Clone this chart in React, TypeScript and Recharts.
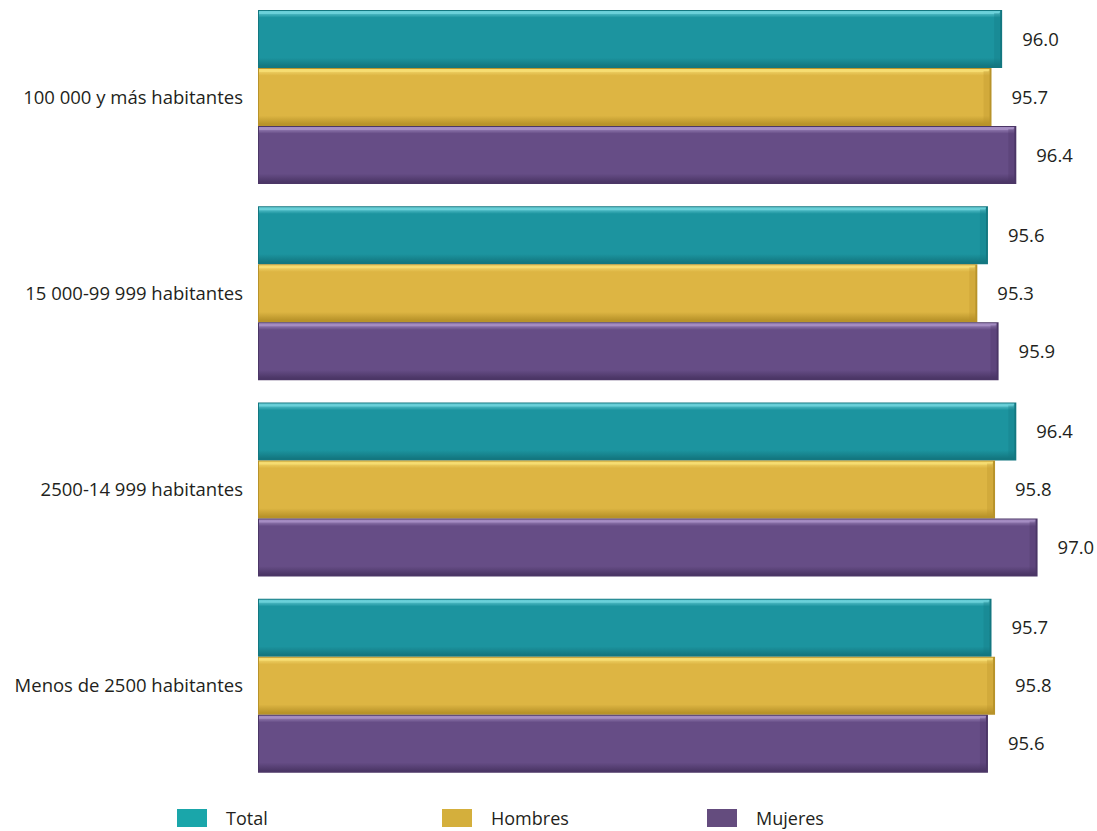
import React from 'react';
import { BarChart, Bar, XAxis, YAxis, Legend, LabelList } from 'recharts';

const categories = [
  '100 000 y más habitantes',
  '15 000-99 999 habitantes',
  '2500-14 999 habitantes',
  'Menos de 2500 habitantes',
];
const totalValues = [96.0, 95.6, 96.4, 95.7];
const hombresValues = [95.7, 95.3, 95.8, 95.8];
const mujeresValues = [96.4, 95.9, 97.0, 95.6];

const data = categories.map((name, i) => ({
  name,
  total: totalValues[i],
  hombres: hombresValues[i],
  mujeres: mujeresValues[i],
}));

const FONT = '"Open Sans", sans-serif';
const TEXT = '#231F20';

const SERIES = [
  { key: 'total', name: 'Total', base: '#1C949F', light: '#6FD3DC', dark: '#137780', legend: '#1AA6AA' },
  { key: 'hombres', name: 'Hombres', base: '#DDB543', light: '#F7DE74', dark: '#B8932A', legend: '#D4AF3C' },
  { key: 'mujeres', name: 'Mujeres', base: '#664D86', light: '#A891C6', dark: '#4B3666', legend: '#644C7E' },
];

const makeShape = (s: typeof SERIES[number]) => (props: any) => {
  const { x, y, width, height } = props;
  if (!width || !height) return null;
  return (
    <g>
      <rect x={x} y={y} width={width} height={height} fill={s.dark} />
      <rect x={x + 1} y={y + 1} width={width - 3} height={height - 3} fill={`url(#grad-${s.key})`} />
      <rect x={x + 1} y={y + 2} width={width - 4} height={2} fill={s.light} opacity={0.85} />
      <rect x={x + width - 8} y={y + 3} width={6} height={height - 6} fill={s.dark} opacity={0.3} />
    </g>
  );
};

const renderLegend = () => (
  <div style={{ display: 'flex', paddingLeft: 177, fontFamily: FONT, fontSize: 18, color: TEXT }}>
    {SERIES.map((s) => (
      <div key={s.key} style={{ display: 'flex', alignItems: 'center', width: 265 }}>
        <span style={{ display: 'inline-block', width: 30, height: 18, background: s.legend, marginRight: 19 }} />
        <span>{s.name}</span>
      </div>
    ))}
  </div>
);

export default function App() {
  return (
    <div style={{ position: 'absolute', left: 0, top: 0, background: '#fff' }}>
      <BarChart
        width={1097}
        height={831}
        data={data}
        layout="vertical"
        margin={{ top: -1, right: 24, left: 0, bottom: 23 }}
        barSize={58}
        barGap={0}
      >
        <defs>
          {SERIES.map((s) => (
            <linearGradient key={s.key} id={`grad-${s.key}`} x1="0" y1="0" x2="0" y2="1">
              <stop offset="0%" stopColor={s.light} />
              <stop offset="12%" stopColor={s.base} />
              <stop offset="85%" stopColor={s.base} />
              <stop offset="100%" stopColor={s.dark} />
            </linearGradient>
          ))}
        </defs>
        <XAxis type="number" domain={[75, 98]} hide allowDataOverflow />
        <YAxis
          type="category"
          dataKey="name"
          width={258}
          axisLine={false}
          tickLine={false}
          tickSize={0}
          tickMargin={15}
          tick={{ fontSize: 18.5, fill: TEXT, fontFamily: FONT }}
        />
        <Legend verticalAlign="bottom" content={renderLegend} wrapperStyle={{ bottom: 1 }} />
        {SERIES.map((s) => (
          <Bar
            key={s.key}
            dataKey={s.key}
            name={s.name}
            fill={s.base}
            shape={makeShape(s)}
            isAnimationActive={false}
          >
            <LabelList
              dataKey={s.key}
              position="right"
              offset={20}
              formatter={(v: any) => Number(v).toFixed(1)}
              style={{ fontSize: 18.5, fill: TEXT, fontFamily: FONT }}
            />
          </Bar>
        ))}
      </BarChart>
    </div>
  );
}
